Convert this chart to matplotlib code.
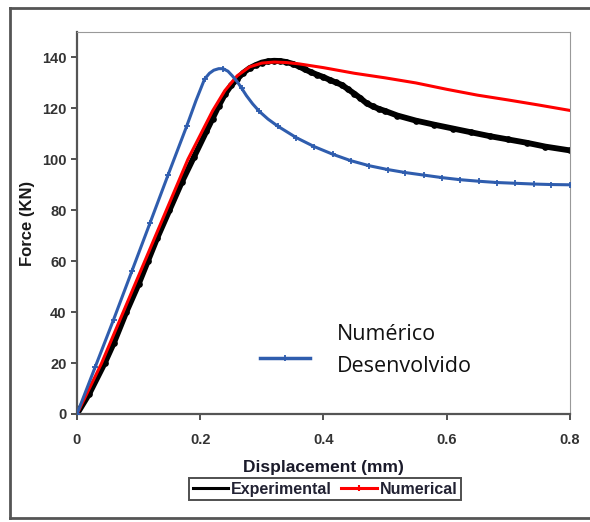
import matplotlib.pyplot as plt
from matplotlib.lines import Line2D

# ---------------- datos ----------------
# Experimental (negro)
x_exp = [0, 0.02, 0.045, 0.06, 0.08, 0.10, 0.115, 0.13, 0.15, 0.17, 0.19, 0.21,
         0.22, 0.23, 0.24, 0.25, 0.26, 0.27, 0.28, 0.29, 0.30, 0.31, 0.32, 0.33,
         0.34, 0.35, 0.36, 0.37, 0.38, 0.39, 0.40, 0.41, 0.42, 0.43, 0.44, 0.45,
         0.46, 0.47, 0.48, 0.49, 0.50, 0.52, 0.55, 0.58, 0.61, 0.64, 0.67, 0.70,
         0.73, 0.76, 0.80]
y_exp = [0, 8, 20, 28, 40, 51, 60, 69, 80, 91, 101, 111,
         116, 121, 125.5, 129, 131.5, 134, 135.8, 137, 138, 138.5, 138.7, 138.6,
         138.2, 137.5, 136.5, 135.3, 134.2, 133.2, 132.3, 131.2, 130.2, 129.2, 127.5, 125.8,
         124, 122, 120.8, 119.8, 119, 117.2, 115.2, 113.6, 112.1, 110.6, 109.1, 107.8,
         106.5, 105, 103.5]

# Numerical (rojo)
x_num = [0, 0.04, 0.075, 0.11, 0.145, 0.18, 0.20, 0.22, 0.24, 0.26, 0.28, 0.30,
         0.32, 0.34, 0.36, 0.40, 0.45, 0.50, 0.55, 0.60, 0.65, 0.70, 0.75, 0.80]
y_num = [0, 20, 40, 60, 80, 100, 109.5, 119, 127, 132.8, 136.3, 137.8,
         138.2, 138, 137.5, 136, 133.8, 132, 130, 127.5, 125.2, 123.3, 121.3, 119.2]

# Numerico desenvolvido (azul); los puntos con marcador van en marcas_des
x_des = [0, 0.0296, 0.0593, 0.0889, 0.1185, 0.148, 0.178, 0.193, 0.207, 0.215,
         0.222, 0.23, 0.237, 0.245, 0.252, 0.26, 0.267, 0.275, 0.285, 0.296,
         0.31, 0.326, 0.356, 0.385, 0.415, 0.444, 0.474, 0.504, 0.533, 0.563,
         0.593, 0.622, 0.652, 0.681, 0.711, 0.741, 0.770, 0.800]
y_des = [0, 18.5, 37, 56, 75, 94, 113, 123, 131.5, 133.8,
         135, 135.6, 135.6, 134.6, 132.8, 130.5, 128, 125, 121.8, 118.8,
         115.8, 113, 108.5, 105, 102, 99.5, 97.5, 96, 94.8, 93.8,
         92.8, 92, 91.4, 90.9, 90.6, 90.3, 90.1, 90.0]
marcas_des = [0, 1, 2, 3, 4, 5, 6, 8, 12, 16, 19, 21, 22, 23, 24, 25, 26, 27, 28,
              29, 30, 31, 32, 33, 34, 35, 36, 37]

xticks = [0, 0.2, 0.4, 0.6, 0.8]
yticks = [0, 20, 40, 60, 80, 100, 120, 140]

azul = '#2F5DAE'

plt.rcParams['font.family'] = ['Liberation Sans', 'DejaVu Sans']

fig = plt.figure(figsize=(5.9, 5.22), dpi=100)
ax = fig.add_axes([0.1305, 0.2069, 0.8355, 0.7318])

ax.plot(x_exp, y_exp, color='black', lw=4.2, marker='o', ms=3.8, zorder=2)
ax.plot(x_num, y_num, color='red', lw=2.2, zorder=3)
ax.plot(x_des, y_des, color=azul, lw=2.2, marker='+', ms=5, mew=1.3,
        markevery=marcas_des, zorder=4)

ax.set_xlim(0, 0.8)
ax.set_ylim(0, 150)
ax.set_xticks(xticks)
ax.set_xticklabels(['0', '0.2', '0.4', '0.6', '0.8'])
ax.set_yticks(yticks)
ax.tick_params(axis='both', labelsize=10.5, colors='#333333', width=1.2, length=4)
for lab in ax.get_xticklabels() + ax.get_yticklabels():
    lab.set_fontweight('bold')
ax.tick_params(axis='x', pad=10)

ax.spines['left'].set_color('#555555')
ax.spines['bottom'].set_color('#555555')
ax.spines['left'].set_linewidth(1.6)
ax.spines['bottom'].set_linewidth(1.6)
ax.spines['top'].set_color('#999999')
ax.spines['right'].set_color('#999999')

ax.set_xlabel('Displacement (mm)', fontsize=12.5, fontweight='bold', color='#1a1a2a', labelpad=9)
ax.set_ylabel('Force (KN)', fontsize=12, fontweight='bold', color='#1a1a1a', labelpad=5)

# leyenda de abajo
h1 = Line2D([], [], color='black', lw=2.2)
h2 = Line2D([], [], color='red', lw=2.2, marker='|', ms=5, mew=1.5)
leg = fig.legend([h1, h2], ['Experimental', 'Numerical'], loc='center',
                 bbox_to_anchor=(0.551, 0.0632), ncol=2, frameon=True,
                 fancybox=False, edgecolor='#222222', handlelength=2.2,
                 handletextpad=0.2, columnspacing=0.6, borderpad=0.2,
                 prop={'size': 11.5, 'weight': 'bold'})
leg.get_frame().set_linewidth(1.4)
for t in leg.get_texts():
    t.set_color('#222233')

# leyenda interna (azul)
fig.add_artist(Line2D([260 / 590, 310 / 590], [1 - 358 / 522, 1 - 358 / 522],
                      color=azul, lw=2.5))
fig.add_artist(Line2D([285 / 590], [1 - 358 / 522], color=azul, marker='+', ms=5, mew=1.3))
fig.text(337 / 590, 1 - 334 / 522, 'Numérico', fontsize=15.5, family='Open Sans',
         color='#111111', va='center', ha='left')
fig.text(337 / 590, 1 - 366 / 522, 'Desenvolvido', fontsize=15.5, family='Open Sans',
         color='#111111', va='center', ha='left')

# marco exterior
for xs, ys in [([10 / 590, 10 / 590], [1 - 8 / 522, 1 - 518 / 522]),
               ([10 / 590, 1], [1 - 8 / 522, 1 - 8 / 522]),
               ([10 / 590, 1], [1 - 518 / 522, 1 - 518 / 522])]:
    fig.add_artist(Line2D(xs, ys, color='#555555', lw=2))

fig.savefig('out.png', dpi=100)
